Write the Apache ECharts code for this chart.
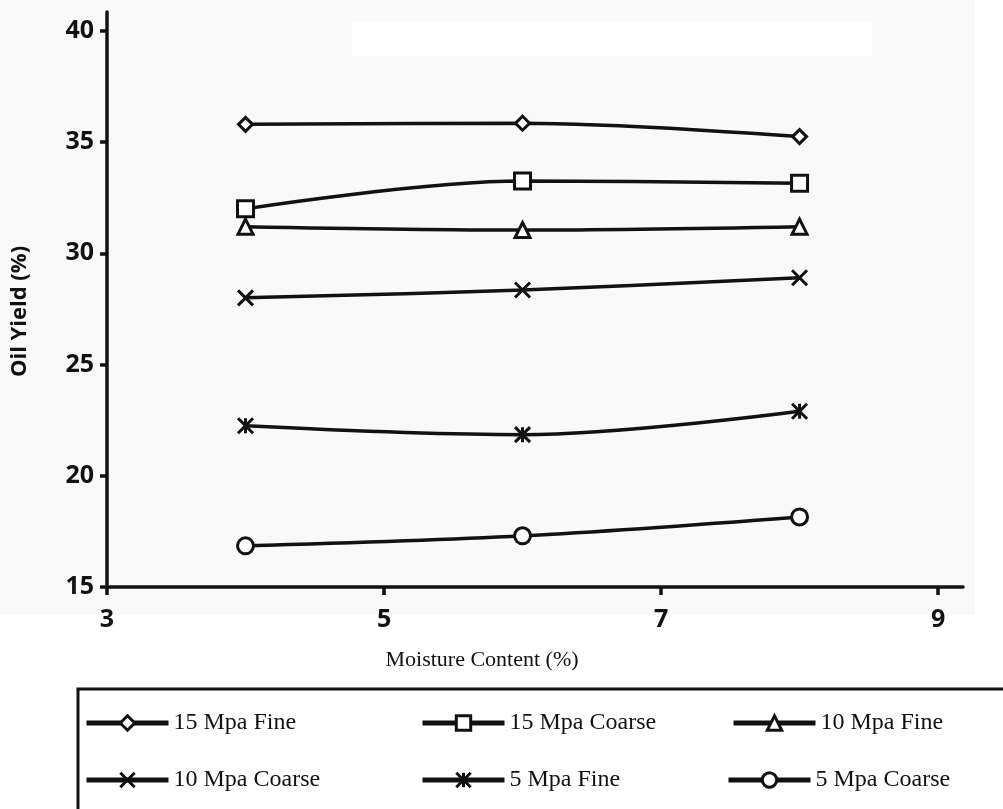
<!DOCTYPE html>
<html lang="en">
<head>
	<meta charset="UTF-8">
	<title>Oil Yield vs Moisture Content</title>
	<script src="https://cdn.jsdelivr.net/npm/echarts@6/dist/echarts.min.js"></script>
	<style>
		html, body {margin:0; padding:0; background:#fff;}
		#box {width:1003px; height:809px;}
	</style>
</head>
<body>
<div id="box"></div>
<script>
	// moisture content (%)
	let moisture = [4, 6, 8];
	let names = ['15 Mpa Fine', '15 Mpa Coarse', '10 Mpa Fine', '10 Mpa Coarse', '5 Mpa Fine', '5 Mpa Coarse'];
	// oil yield (%) per series
	let fine15 = [35.8, 35.85, 35.25];
	let coarse15 = [32.0, 33.25, 33.15];
	let fine10 = [31.2, 31.05, 31.2];
	let coarse10 = [28.0, 28.35, 28.9];
	let fine5 = [22.25, 21.85, 22.9];
	let coarse5 = [16.85, 17.3, 18.15];
	let yTicks = [15, 20, 25, 30, 35, 40];
	let xTicks = [3, 5, 7, 9];

	let symbols = [
		'diamond',
		'rect',
		'triangle',
		'path://M0,0L10,10M10,0L0,10',
		'path://M0,0L10,10M10,0L0,10M5,0L5,10',
		'circle'
	];
	let sizes = [14, 16, 15, 15, 15, 16];
	let values = [fine15, coarse15, fine10, coarse10, fine5, coarse5];

	let series = names.map((name, i) => ({
		name: name,
		type: 'line',
		smooth: 0.35,
		symbol: symbols[i],
		symbolSize: sizes[i],
		lineStyle: {color: '#111', width: 3.5},
		itemStyle: {color: (i == 3 || i == 4) ? '#111' : '#fff', borderColor: '#111', borderWidth: 3},
		data: moisture.map((m, j) => [m, values[i][j]])
	}));

	// legend spots (one legend per item so the columns line up)
	let legendPos = [[84, 711], [420, 711], [731, 711], [84, 768], [420, 768], [726, 768]];
	let legends = names.map((name, i) => ({
		data: [name],
		left: legendPos[i][0],
		top: legendPos[i][1],
		padding: 0,
		itemWidth: 82,
		itemHeight: 18,
		lineStyle: {width: 5, color: '#111'},
		itemStyle: {borderWidth: 3},
		textStyle: {fontFamily: 'Liberation Serif', fontSize: 24, color: '#111'},
		selectedMode: false
	}));

	let options = {
		animation: false,
		backgroundColor: '#fff',
		graphic: [
			{type: 'rect', z: -10, shape: {x: 0, y: 0, width: 975, height: 615}, style: {fill: '#f9f9f9'}},
			{type: 'rect', z: -5, shape: {x: 352, y: 21, width: 520, height: 35}, style: {fill: '#fff'}},
			{type: 'rect', shape: {x: 78, y: 689, width: 940, height: 140}, style: {fill: 'none', stroke: '#111', lineWidth: 3}}
		],
		grid: {left: 107, right: 40, top: 12, bottom: 222},
		legend: legends,
		xAxis: {
			type: 'value',
			min: 3,
			max: 9.18,
			name: 'Moisture Content (%)',
			nameLocation: 'middle',
			nameGap: 62,
			nameTextStyle: {fontFamily: 'Liberation Serif', fontSize: 22, color: '#111', padding: [0, 106, 0, 0]},
			splitLine: {show: false},
			axisLine: {lineStyle: {color: '#111', width: 3.5}},
			axisTick: {show: true, customValues: xTicks, length: 8, lineStyle: {color: '#111', width: 3.5}},
			axisLabel: {customValues: xTicks, margin: 20, fontFamily: 'Open Sans', fontWeight: 'bold', fontSize: 25, color: '#111'}
		},
		yAxis: {
			type: 'value',
			min: 15,
			max: 40.85,
			name: 'Oil Yield (%)',
			nameLocation: 'middle',
			nameGap: 76,
			nameTextStyle: {fontFamily: 'Open Sans', fontWeight: 'bold', fontSize: 22, color: '#111', padding: [0, 24, 0, 0]},
			splitLine: {show: false},
			axisLine: {show: true, lineStyle: {color: '#111', width: 3.5}},
			axisTick: {show: true, customValues: yTicks, length: 7, lineStyle: {color: '#111', width: 3.5}},
			axisLabel: {customValues: yTicks, margin: 13, fontFamily: 'Open Sans', fontWeight: 'bold', fontSize: 25, color: '#111'}
		},
		series: series
	};
	let chart = echarts.init(document.getElementById('box'));
	chart.setOption(options);
</script>
</body>
</html>
